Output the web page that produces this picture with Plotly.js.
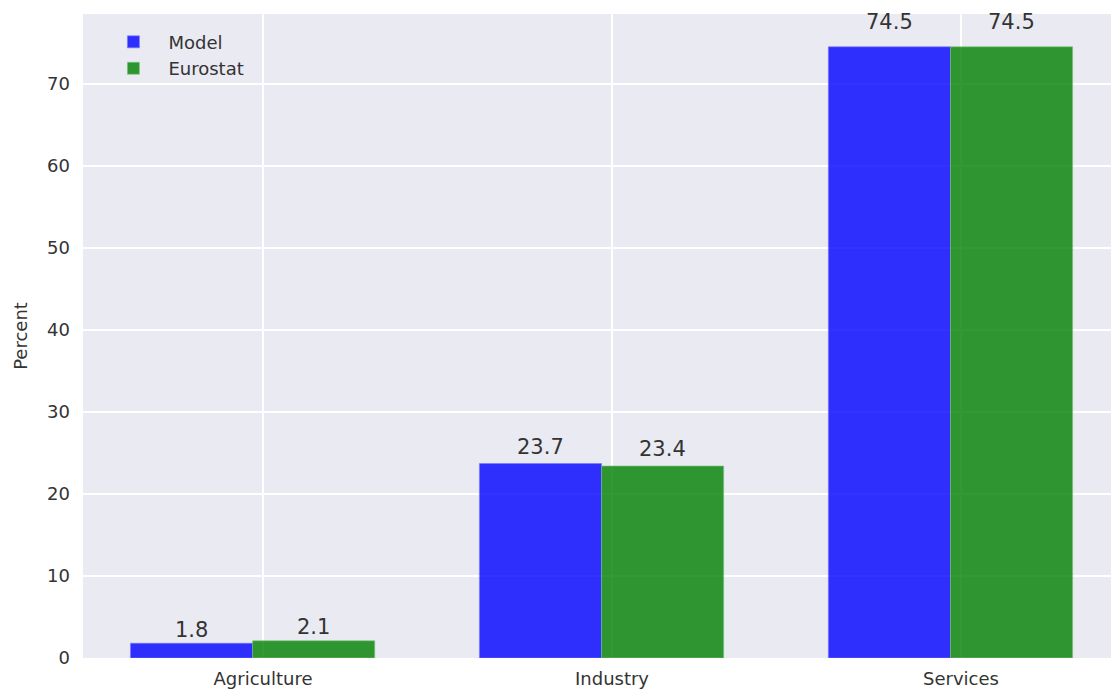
<!DOCTYPE html>
<html>
<head>
<meta charset="utf-8">
<script src="https://cdn.plot.ly/plotly-3.0.1.min.js"></script>
<style>html,body{margin:0;padding:0;background:#fff;}#chart{width:1111px;height:695px;}</style>
</head>
<body>
<div id="chart"></div>
<script>
const categories = ["Agriculture", "Industry", "Services"];
const modelValues = [1.8, 23.7, 74.5];
const eurostatValues = [2.1, 23.4, 74.5];
const yTicks = [0, 10, 20, 30, 40, 50, 60, 70];

const idx = categories.map((c, i) => i);
const barWidth = 0.35;
const modelX = idx.map(i => i - 0.205);
const eurostatX = idx.map(i => i + 0.145);

const FONT = 'DejaVu Sans, sans-serif';

const traces = [
  {
    type: 'bar', name: 'Model', x: modelX, y: modelValues, width: barWidth,
    marker: {color: 'rgba(0,0,255,0.8)', line: {color: 'rgba(120,120,255,0.6)', width: 1}},
    hoverinfo: 'y'
  },
  {
    type: 'bar', name: 'Eurostat', x: eurostatX, y: eurostatValues, width: barWidth,
    marker: {color: 'rgba(0,128,0,0.8)', line: {color: 'rgba(120,200,120,0.6)', width: 1}},
    hoverinfo: 'y'
  }
];

const annotations = [];
[[modelX, modelValues], [eurostatX, eurostatValues]].forEach(([xs, vs]) => {
  xs.forEach((x, i) => {
    annotations.push({
      x: x, y: vs[i] * 1.02, xref: 'x', yref: 'y', text: vs[i].toFixed(1),
      showarrow: false, xanchor: 'center', yanchor: 'bottom', borderpad: 0,
      font: {family: FONT, size: 21, color: '#333'}
    });
  });
});

const layout = {
  width: 1111, height: 695,
  margin: {l: 83, r: 0, t: 14, b: 37},
  paper_bgcolor: '#ffffff', plot_bgcolor: '#EAEAF2',
  font: {family: FONT, size: 18, color: '#333'},
  barmode: 'overlay', bargap: 0,
  showlegend: true,
  legend: {x: 0.015, y: 0.985, xanchor: 'left', yanchor: 'top', bgcolor: 'rgba(0,0,0,0)',
           itemwidth: 60, font: {family: FONT, size: 18, color: '#333'}, tracegroupgap: 2},
  annotations: annotations,
  xaxis: {
    type: 'linear', range: [-0.516, 2.43], tickvals: idx, ticktext: categories,
    showgrid: true, gridcolor: '#ffffff', gridwidth: 1.6, zeroline: false,
    ticks: '', showline: false, ticklabelstandoff: 8,
    tickfont: {family: FONT, size: 18, color: '#333'}
  },
  yaxis: {
    range: [0, 78.5], tickvals: yTicks, showgrid: true, gridcolor: '#ffffff', gridwidth: 1.6,
    zeroline: false, ticks: '', showline: false, ticklabelstandoff: 12,
    tickfont: {family: FONT, size: 18, color: '#333'},
    title: {text: 'Percent', font: {family: FONT, size: 18, color: '#333'}, standoff: 14}
  }
};

Plotly.newPlot('chart', traces, layout, {displayModeBar: false, staticPlot: true});
</script>
</body>
</html>
